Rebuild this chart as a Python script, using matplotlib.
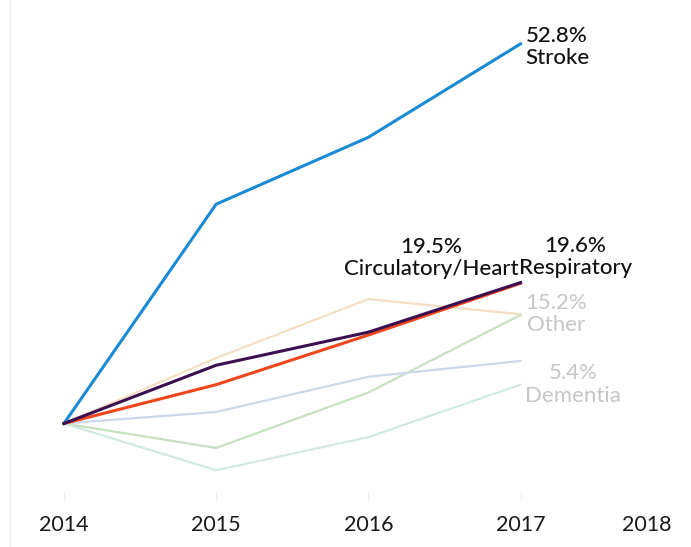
import matplotlib
matplotlib.use('Agg')
import matplotlib.pyplot as plt
from matplotlib.lines import Line2D

plt.rcParams['font.family'] = ['Lato', 'DejaVu Sans']

years = [2014, 2015, 2016, 2017]
tick_labels = ['2014', '2015', '2016', '2017', '2018']

# percent change since 2014
stroke = [0, 30.5, 39.8, 52.8]
respiratory = [0, 8.1, 12.7, 19.6]
circulatory = [0, 5.4, 12.3, 19.5]
other = [0, 9.1, 17.3, 15.2]
green_series = [0, -3.4, 4.3, 15.1]
bluegrey_series = [0, 1.6, 6.5, 8.7]
dementia = [0, -6.5, -1.9, 5.4]

fig = plt.figure(figsize=(6.91, 5.47), dpi=100)
ax = fig.add_axes([0, 47 / 547, 1, 500 / 547])
ax.set_xlim(2013.58, 2018.12)
ax.set_ylim(-10.64, 58.9)

ax.plot(years, other, color='#f5dfc4', lw=1.6, zorder=1)
ax.plot(years, green_series, color='#c8e0c2', lw=1.6, zorder=1)
ax.plot(years, bluegrey_series, color='#cdd9e8', lw=1.6, zorder=1)
ax.plot(years, dementia, color='#d2e9e3', lw=1.6, zorder=1)
ax.plot(years, circulatory, color='#f0461c', lw=2.2, zorder=3)
ax.plot(years, respiratory, color='#3b0f50', lw=2.2, zorder=4)
ax.plot(years, stroke, color='#1a8ad4', lw=2.2, zorder=3)

fs = 16
ls = 1.15
dark = '#111111'
light = '#c6c6c6'
ax.text(2017.03, stroke[-1] - 0.4, '52.8%\nStroke', ha='left', va='center',
        multialignment='center', fontsize=fs, color=dark, linespacing=ls,
        fontweight='medium')
ax.text(2016.99, circulatory[-1] + 0.6, '19.5%\nCirculatory/Heart', ha='right',
        va='bottom', multialignment='center', fontsize=fs, color=dark,
        linespacing=ls, fontweight='medium')
ax.text(2016.99, respiratory[-1] + 0.6, '19.6%\nRespiratory', ha='left',
        va='bottom', multialignment='center', fontsize=fs, color=dark,
        linespacing=ls, fontweight='medium')
ax.text(2017.03, other[-1], '15.2%\nOther', ha='left', va='center',
        multialignment='center', fontsize=fs, color=light, linespacing=ls)
ax.text(2017.03, dementia[-1], '5.4%\nDementia', ha='left', va='center',
        multialignment='center', fontsize=fs, color=light, linespacing=ls)

for s in ax.spines.values():
    s.set_visible(False)
ax.set_yticks([])
ax.set_xticks(years + [2017.83])
ax.set_xticklabels(tick_labels, fontsize=15.5, color='#1a1a1a')
ax.tick_params(axis='x', length=0, pad=11)
for x in years:
    ax.plot([x, x], [-10.64, -9.6], color='#eeeeee', lw=1, clip_on=False)

fig.add_artist(Line2D([10 / 691, 10 / 691], [0, 1], color='#eeeeee', lw=1))

fig.savefig('out.png', dpi=100, facecolor='white')
